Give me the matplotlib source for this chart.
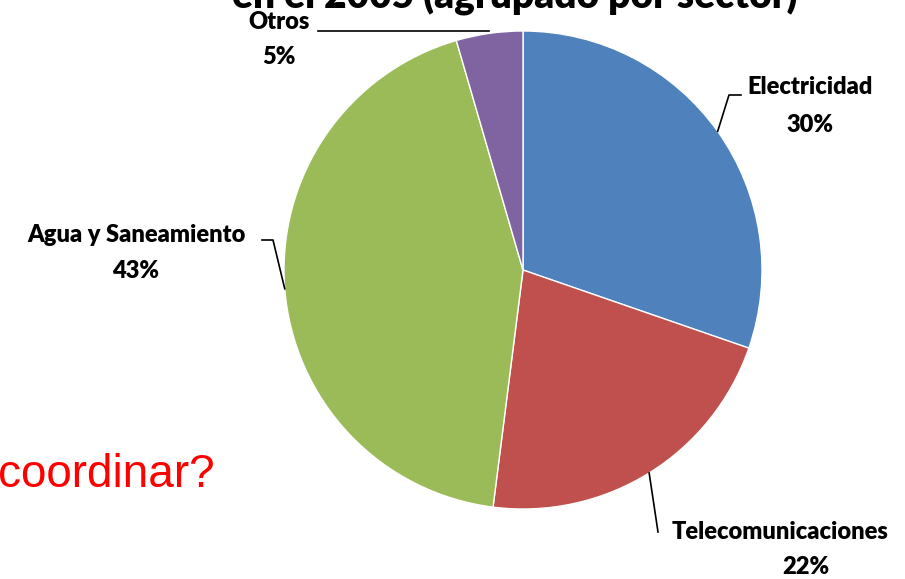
import numpy as np
import matplotlib.pyplot as plt

sectores = ['Electricidad', 'Telecomunicaciones', 'Agua y Saneamiento', 'Otros']
valores = [30.3, 21.7, 43.5, 4.5]
etiquetas_pct = ['30%', '22%', '43%', '5%']
colores = ['#4F81BD', '#C0504D', '#9BBB59', '#8064A2']

W, H = 905, 579
fig = plt.figure(figsize=(W / 100, H / 100), dpi=100)
ax = fig.add_axes([0, 0, 1, 1])

cx, cy, r = 523, H - 270, 239
wedges, _ = ax.pie(valores, colors=colores, startangle=90, counterclock=False,
                   center=(cx, cy), radius=r, frame=True,
                   wedgeprops=dict(edgecolor='white', linewidth=1))
ax.set_xlim(0, W)
ax.set_ylim(0, H)
ax.set_aspect('equal')
ax.axis('off')

fuente = dict(family=['Lato', 'DejaVu Sans'], fontweight='heavy', fontsize=17, color='black')

# label centre, pct centre, line start and elbow, in pixels from top-left
textos = {
    'Electricidad': ((810, 87), (810, 125), (741, 95), (729, 95)),
    'Telecomunicaciones': ((780, 532), (806, 567), (658, 532), (658, 532)),
    'Agua y Saneamiento': ((136, 235), (136, 271), (262, 240), (273, 240)),
    'Otros': ((279, 22), (279, 57), (318, 31), (318, 31)),
}

for w, nombre, pct in zip(wedges, sectores, etiquetas_pct):
    ang = np.deg2rad((w.theta1 + w.theta2) / 2)
    px, py = cx + r * np.cos(ang), cy + r * np.sin(ang)
    (tx, ty), (qx, qy), (ex, ey), (fx, fy) = textos[nombre]
    if nombre == 'Otros':
        xs = [ex, px]
        ys = [H - ey, H - ey]
    else:
        xs = [ex, fx, px]
        ys = [H - ey, H - fy, py]
    ax.plot(xs, ys, color='black', lw=1.2)
    ax.text(tx, H - ty, nombre, ha='center', va='center', **fuente)
    ax.text(qx, H - qy, pct, ha='center', va='center', **fuente)

ax.text(515, H - 9, 'en el 2005 (agrupado por sector)', ha='center', va='baseline',
        family=['Lato', 'DejaVu Sans'], fontweight='heavy', fontsize=28)

ax.text(-2, H - 487, 'coordinar?', ha='left', va='baseline', color='red',
        family=['Liberation Sans', 'DejaVu Sans'], fontsize=33)

fig.savefig('out.png', dpi=100)
